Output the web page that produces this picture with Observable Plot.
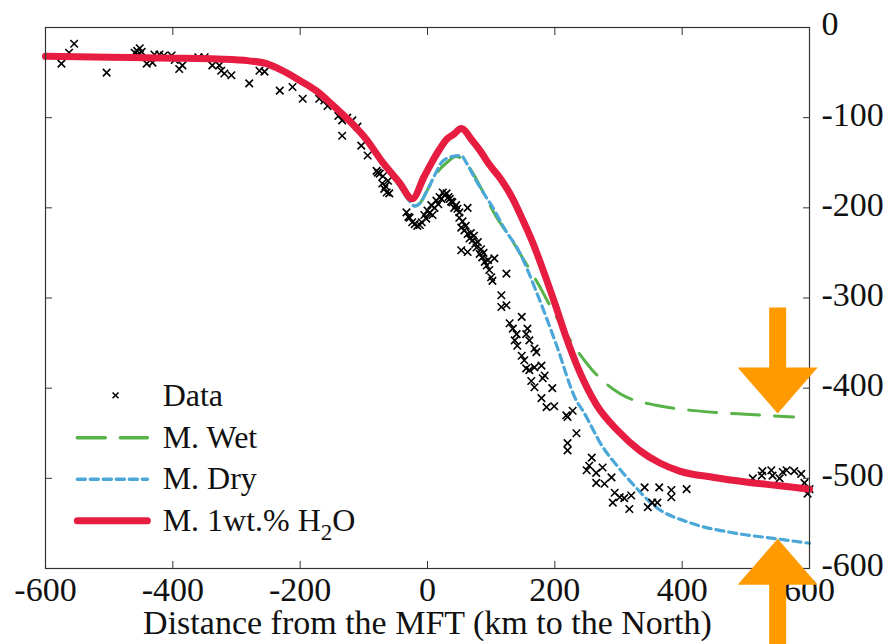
<!DOCTYPE html>
<html><head><meta charset="utf-8">
<script src="https://cdn.jsdelivr.net/npm/d3@7"></script>
<script src="https://cdn.jsdelivr.net/npm/@observablehq/plot@0.6"></script>
<style>body{margin:0;background:#fff} svg{display:block}</style>
</head><body><div id="chart"></div>
<script>
const xTicks = [-600, -400, -200, 0, 200, 400, 600];
const yTicks = [0, -100, -200, -300, -400, -500, -600];
const xInner = [-400, -200, 0, 200, 400];
const yInner = [-100, -200, -300, -400, -500];
const xLabel = "Distance from the MFT (km to the North)";

// Model curves [distance km, elevation/depth]
const modelH2O = [[-600,-32],[-500,-33],[-400,-34],[-330,-35],[-280,-37],[-253,-40],[-230,-47],[-200,-59],[-175,-70],[-149,-86],[-122,-104],[-96,-124],[-71,-149],[-44,-172],[-24,-190],[-5,-165],[8,-148],[19,-135],[30,-124],[42,-118],[53,-112],[70,-125],[82,-136],[97,-152],[115,-168],[134,-190],[150,-214],[165,-238],[180,-266],[200,-306],[218,-344],[239,-382],[265,-418],[300,-448],[333,-469],[365,-483],[396,-492],[450,-499],[500,-504],[550,-508],[600,-512]];
const modelWet = [[-600,-32],[-500,-33],[-400,-34],[-330,-35],[-280,-37],[-253,-40],[-230,-47],[-200,-59],[-175,-70],[-149,-86],[-122,-104],[-96,-124],[-71,-150],[-44,-176],[-30,-191],[-20,-198],[-12,-195],[0,-180],[14,-162],[30,-150],[45,-143],[55,-146],[70,-160],[87,-182],[108,-210],[130,-233],[149,-255],[171,-281],[200,-318],[228,-351],[259,-380],[302,-406],[359,-419],[406,-424],[453,-427],[500,-429],[575,-432]];
const modelDry = [[-600,-32],[-500,-33],[-400,-34],[-330,-35],[-280,-37],[-253,-40],[-230,-47],[-200,-59],[-175,-70],[-149,-86],[-122,-104],[-96,-124],[-71,-150],[-44,-176],[-30,-191],[-20,-198],[-12,-195],[0,-180],[14,-160],[24,-148],[40,-143],[53,-142],[61,-150],[75,-168],[92,-188],[102,-199],[120,-222],[145,-250],[171,-293],[202,-351],[234,-414],[244,-425],[275,-465],[300,-488],[322,-506],[359,-532],[411,-549],[485,-561],[548,-567],[600,-572]];

// Observed data points
const observed = [[-555,-18],[-563,-28],[-575,-40],[-504,-50],[-456,-26],[-452,-23],[-460,-28],[-449,-27],[-455,-30],[-441,-40],[-432,-39],[-429,-30],[-421,-30],[-414,-31],[-402,-31],[-397,-36],[-390,-46],[-385,-42],[-360,-33],[-350,-33],[-338,-42],[-327,-42],[-324,-48],[-319,-51],[-308,-53],[-280,-62],[-264,-48],[-256,-49],[-232,-70],[-212,-66],[-196,-79],[-170,-79],[-162,-81],[-157,-87],
[-140,-98],[-134,-103],[-134,-120],[-126,-100],[-118,-103],[-110,-110],[-104,-131],[-94,-142],[-80,-159],[-78,-161],[-75,-162],[-71,-173],[-68,-179],[-66,-176],[-64,-183],[-60,-184],[-62,-170],[-70,-165],
[-33,-205],[-30,-210],[-28,-211],[-24,-216],[-20,-218],[-16,-220],[-12,-219],[-9,-216],[-5,-208],[-2,-212],[0,-203],[3,-206],[6,-197],[8,-208],[11,-200],[14,-192],[17,-196],[19,-188],[22,-190],[24,-183],[27,-186],[30,-184],[33,-188],[35,-190],[37,-193],[39,-194],[42,-200],[45,-197],[47,-201],[50,-211],[50,-205],[53,-222],[55,-215],[58,-225],[60,-220],[63,-229],[63,-200],[66,-234],[68,-228],[71,-236],[73,-231],[75,-240],[77,-244],[79,-238],[82,-251],[84,-246],[86,-255],[88,-250],[90,-260],[93,-264],[95,-258],[97,-269],[100,-277],[102,-281],[53,-247],[63,-249],[105,-256],[124,-273],[116,-297],
[116,-310],[124,-308],[148,-321],[129,-328],[134,-334],[157,-334],[155,-340],[140,-340],[137,-347],[141,-353],[160,-347],[168,-356],[171,-360],[148,-364],[152,-369],[155,-378],[160,-380],[168,-377],[179,-375],[184,-386],[181,-389],[163,-392],[168,-399],[196,-400],[179,-411],[187,-421],[199,-420],[218,-430],[220,-432],[228,-425],[234,-450],[220,-461],[220,-469],[258,-477],[254,-486],[250,-491],[265,-494],[275,-488],[265,-505],[278,-506],[289,-499],[294,-516],[302,-521],[309,-522],[320,-519],[291,-527],[317,-534],[341,-510],[346,-532],[353,-527],[361,-527],[364,-510],[383,-513],[383,-521],[407,-512],
[511,-500],[525,-497],[526,-492],[540,-491],[542,-497],[553,-500],[558,-493],[564,-491],[576,-492],[587,-495],[592,-505],[597,-517],[600,-512]];

// Legend
const legendLabels = ["Data", "M. Wet", "M. Dry", "M. 1wt.% H2O"];
const legendRowY = [-408, -455, -501, -547];
const legendSampleX = [-550, -440];
const legendTextX = -416;

// Annotation arrows (tip positions)
const arrowTips = [{x: 550, y: -428, dir: "down"}, {x: 550, y: -567, dir: "up"}];

const RED = "#e61c40", GREEN = "#57b347", BLUE = "#4aa7d8", ORANGE = "#ff9a00";
const FONT = "'Liberation Serif','Times New Roman',serif";
const hyphen = d => String(d);

const arrowDown = {draw(c) { c.moveTo(0,0); c.lineTo(-40,-46); c.lineTo(-8.5,-46); c.lineTo(-8.5,-106); c.lineTo(8.5,-106); c.lineTo(8.5,-46); c.lineTo(40,-46); c.closePath(); }};
const arrowUp = {draw(c) { c.moveTo(0,0); c.lineTo(-40,46); c.lineTo(-8.5,46); c.lineTo(-8.5,110); c.lineTo(8.5,110); c.lineTo(8.5,46); c.lineTo(40,46); c.closePath(); }};

const tickOpts = {tickFormat: () => "", label: null, stroke: "#333"};

const chart = Plot.plot({
  width: 889, height: 644,
  marginLeft: 45, marginRight: 80, marginTop: 27, marginBottom: 76,
  style: {fontFamily: FONT, background: "#fff", color: "#111"},
  x: {domain: [-600, 600]},
  y: {domain: [-600, 0]},
  marks: [
    Plot.line(modelWet, {x: d => d[0], y: d => d[1], stroke: GREEN, strokeWidth: 3, strokeDasharray: "28,15", curve: "monotone-x"}),
    Plot.line(modelDry, {x: d => d[0], y: d => d[1], stroke: BLUE, strokeWidth: 3.2, strokeDasharray: "8,5", curve: "monotone-x"}),
    Plot.dot(observed, {x: d => d[0], y: d => d[1], symbol: "times", r: 3.5, stroke: "#000", strokeWidth: 1.6}),
    Plot.line(modelH2O, {x: d => d[0], y: d => d[1], stroke: RED, strokeWidth: 7, strokeLinejoin: "round", curve: "monotone-x"}),
    Plot.frame({stroke: "#333", strokeWidth: 1.2}),
    Plot.axisX(xInner, {anchor: "bottom", tickSize: -7, ...tickOpts}),
    Plot.axisX(xInner, {anchor: "top", tickSize: -7, ...tickOpts}),
    Plot.axisY(yInner, {anchor: "left", tickSize: -7, ...tickOpts}),
    Plot.axisY(yInner, {anchor: "right", tickSize: -7, ...tickOpts}),
    Plot.axisX(xTicks, {anchor: "bottom", tickSize: 0, tickPadding: 8, fontSize: 34, tickFormat: hyphen, label: null, fill: "#111"}),
    Plot.axisY(yTicks, {anchor: "right", tickSize: 0, tickPadding: 12, fontSize: 34, tickFormat: hyphen, dy: -3, label: null, fill: "#111"}),
    Plot.text([xLabel], {frameAnchor: "bottom", dy: 55, fontSize: 34, fill: "#111", lineAnchor: "middle"}),
    // legend
    Plot.dot([0], {x: -490, y: legendRowY[0], symbol: "times", r: 2.8, stroke: "#000", strokeWidth: 1.5}),
    Plot.line(legendSampleX, {x: d => d, y: legendRowY[1], stroke: GREEN, strokeWidth: 3.5, strokeDasharray: "28,15"}),
    Plot.line(legendSampleX, {x: d => d, y: legendRowY[2], stroke: BLUE, strokeWidth: 3.5, strokeDasharray: "8,5"}),
    Plot.line(legendSampleX, {x: d => d, y: legendRowY[3], stroke: RED, strokeWidth: 7}),
    Plot.text(legendLabels, {x: legendTextX, y: (d, i) => legendRowY[i], text: d => d, textAnchor: "start", fontSize: 32, fill: "#111", lineAnchor: "middle"}),
    // annotation arrows
    Plot.dot(arrowTips, {x: "x", y: "y", symbol: d => d.dir === "down" ? arrowDown : arrowUp, fill: ORANGE, stroke: "none", r: 5})
  ]
});

// subscript for H2O
const NS = "http://www.w3.org/2000/svg";
chart.querySelectorAll("text").forEach(t => {
  if (t.textContent === "M. 1wt.% H2O") {
    t.textContent = "M. 1wt.% H";
    const s = document.createElementNS(NS, "tspan");
    s.setAttribute("dy", "9"); s.setAttribute("font-size", "23"); s.textContent = "2";
    const o = document.createElementNS(NS, "tspan");
    o.setAttribute("dy", "-9"); o.textContent = "O";
    t.appendChild(s); t.appendChild(o);
  }
});
document.getElementById("chart").appendChild(chart);
</script>
</body></html>
